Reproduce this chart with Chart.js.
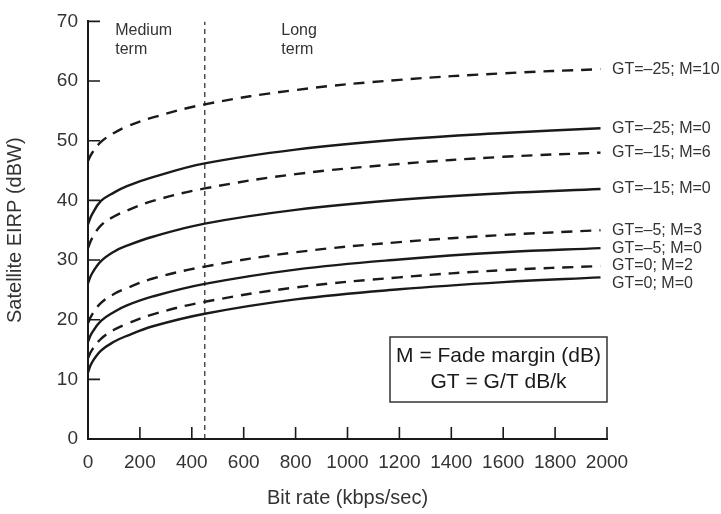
<!DOCTYPE html>
<html>
<head>
<meta charset="utf-8">
<script src="https://cdn.jsdelivr.net/npm/chart.js@4.4.1/dist/chart.umd.min.js"></script>
<style>
  html, body { margin: 0; padding: 0; background: #fff; }
  #wrap { width: 721px; height: 514px; }
</style>
</head>
<body>
<div id="wrap"><canvas id="chart"></canvas></div>
<script>
// bit rate samples (kbps/sec) and EIRP readings (dBW) for each curve
const BIT_RATE = [0, 15, 50, 100, 150, 250, 450, 800, 1200, 1600, 1975];

const GT25_M10 = [46.6, 47.9, 49.8, 51.3, 52.4, 53.9, 56.1, 58.5, 60.2, 61.3, 62.0];
const GT25_M0  = [36.0, 37.6, 39.9, 41.3, 42.4, 43.9, 46.2, 48.5, 50.2, 51.3, 52.1];
const GT15_M6  = [32.0, 33.6, 35.8, 37.3, 38.3, 39.9, 42.0, 44.4, 46.1, 47.3, 48.0];
const GT15_M0  = [26.1, 27.7, 29.8, 31.4, 32.4, 33.9, 36.1, 38.4, 40.1, 41.2, 41.9];
const GT5_M3   = [19.4, 20.8, 22.8, 24.3, 25.3, 26.9, 28.9, 31.3, 33.0, 34.2, 35.0];
const GT5_M0   = [16.3, 17.8, 19.8, 21.3, 22.4, 23.9, 26.0, 28.4, 30.1, 31.3, 32.0];
const GT0_M2   = [13.6, 14.9, 16.8, 18.3, 19.3, 20.9, 23.0, 25.4, 27.1, 28.3, 29.0];
const GT0_M0   = [11.2, 12.8, 14.8, 16.3, 17.3, 18.9, 21.0, 23.4, 25.1, 26.3, 27.1];

const SERIES_LABELS = [
  "GT=\u201325; M=10", "GT=\u201325; M=0", "GT=\u201315; M=6", "GT=\u201315; M=0",
  "GT=\u20135; M=3", "GT=\u20135; M=0", "GT=0; M=2", "GT=0; M=0",
];
const SERIES_VALUES = [GT25_M10, GT25_M0, GT15_M6, GT15_M0, GT5_M3, GT5_M0, GT0_M2, GT0_M0];
const SERIES_DASHED = [true, false, true, false, true, false, true, false];
const LABEL_NUDGE = [0, 0, 0, 0, 0, 0, 0, 6];

const TERM_BOUNDARY = 450;
const TERM_LABELS = [["Medium", "term", 105], ["Long", "term", 745]];
const NOTE_LINES = ["M = Fade margin (dB)", "GT = G/T dB/k"];

const FONT = "'Liberation Sans', Arial, Helvetica, sans-serif";
const INK = "#1a1a1a";

Chart.defaults.font.family = FONT;
Chart.defaults.color = "#333";

const inwardTicks = {
  id: "inwardTicks",
  afterDraw(chart) {
    const { ctx, chartArea: a, scales: { x, y } } = chart;
    ctx.save();
    ctx.strokeStyle = INK;
    ctx.lineWidth = 1.6;
    ctx.beginPath();
    x.ticks.forEach((t) => {
      if (t.value === 0) return;
      const px = x.getPixelForValue(t.value);
      ctx.moveTo(px, a.bottom);
      ctx.lineTo(px, a.bottom - 12);
    });
    y.ticks.forEach((t) => {
      if (t.value === 0) return;
      const py = y.getPixelForValue(t.value);
      ctx.moveTo(a.left, py);
      ctx.lineTo(a.left + 12, py);
    });
    ctx.stroke();
    ctx.restore();
  },
};

const annotations = {
  id: "annotations",
  afterDatasetsDraw(chart) {
    const { ctx, chartArea: a, scales: { x, y } } = chart;
    ctx.save();

    // curve labels at the right end
    ctx.font = `16px ${FONT}`;
    ctx.fillStyle = "#333";
    ctx.textBaseline = "middle";
    ctx.textAlign = "left";
    SERIES_LABELS.forEach((label, i) => {
      const vals = SERIES_VALUES[i];
      ctx.fillText(label, a.right + 5, y.getPixelForValue(vals[vals.length - 1]) + LABEL_NUDGE[i]);
    });

    // medium / long term captions
    ctx.textBaseline = "top";
    TERM_LABELS.forEach(([l1, l2, xv]) => {
      const px = x.getPixelForValue(xv);
      ctx.fillText(l1, px, a.top + 1);
      ctx.fillText(l2, px, a.top + 20);
    });

    // note box
    const bw = 217, bh = 65;
    const bx = a.right - bw, by = a.bottom - 102;
    ctx.strokeStyle = "#333";
    ctx.lineWidth = 1.5;
    ctx.strokeRect(bx, by, bw, bh);
    ctx.font = `21px ${FONT}`;
    ctx.fillStyle = INK;
    ctx.textAlign = "center";
    ctx.textBaseline = "middle";
    ctx.fillText(NOTE_LINES[0], bx + bw / 2, by + 19);
    ctx.fillText(NOTE_LINES[1], bx + bw / 2, by + 45);
    ctx.restore();
  },
};

const datasets = SERIES_LABELS.map((label, i) => ({
  label,
  data: BIT_RATE.map((r, j) => ({ x: r, y: SERIES_VALUES[i][j] })),
  borderColor: INK,
  borderWidth: 2.4,
  borderDash: SERIES_DASHED[i] ? [11, 8] : [],
  pointRadius: 0,
  tension: 0.4,
  fill: false,
}));

datasets.push({
  label: "term boundary",
  data: [{ x: TERM_BOUNDARY, y: 0 }, { x: TERM_BOUNDARY, y: 70 }],
  borderColor: "#333",
  borderWidth: 1.3,
  borderDash: [5, 4],
  pointRadius: 0,
  fill: false,
});

new Chart(document.getElementById("chart"), {
  type: "line",
  data: { datasets },
  plugins: [inwardTicks, annotations],
  options: {
    responsive: true,
    maintainAspectRatio: false,
    animation: false,
    layout: { padding: { top: 15, right: 114, left: 0, bottom: 0 } },
    plugins: { legend: { display: false }, tooltip: { enabled: false } },
    scales: {
      x: {
        type: "linear",
        min: 0,
        max: 2000,
        afterFit: (s) => { s.height = 75; },
        ticks: { stepSize: 200, autoSkip: false, maxRotation: 0, padding: 12, font: { size: 19 }, callback: (v) => String(v) },
        grid: { drawOnChartArea: false, drawTicks: false },
        border: { color: INK, width: 2 },
        title: { display: true, text: "Bit rate (kbps/sec)", font: { size: 20 }, padding: { top: 0, bottom: 4 } },
      },
      y: {
        min: 0,
        max: 70,
        afterFit: (s) => { s.width = 88; },
        ticks: { stepSize: 10, padding: 10, font: { size: 19 } },
        grid: { drawOnChartArea: false, drawTicks: false },
        border: { color: INK, width: 2 },
        title: { display: true, text: "Satellite EIRP (dBW)", font: { size: 20 }, padding: { top: 3, bottom: 0 } },
      },
    },
  },
});
</script>
</body>
</html>
